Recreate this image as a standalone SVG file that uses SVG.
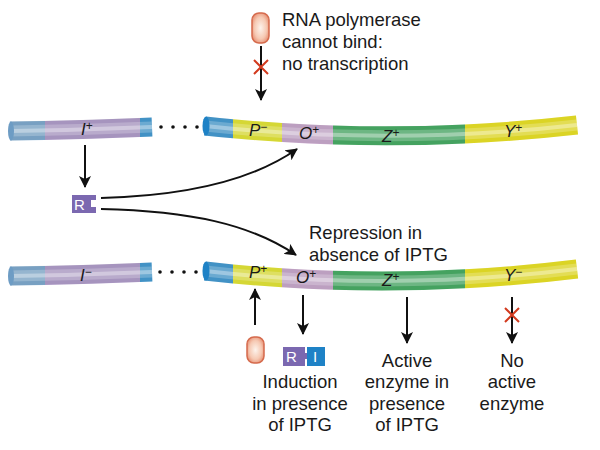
<svg xmlns="http://www.w3.org/2000/svg" width="600" height="450" viewBox="0 0 600 450">
<defs>
<style>
.lbl{font-family:"Liberation Sans",Arial,sans-serif;font-size:18.5px;fill:#1a1a1a}
.con{fill:none;stroke:#111;stroke-width:2}
.tube{fill:none;stroke-width:19;stroke-linecap:butt}
.shade{fill:none;stroke:#000;stroke-opacity:0.10;stroke-width:19}
.hl1{fill:none;stroke:#fff;stroke-opacity:0.22;stroke-width:11}
.hl2{fill:none;stroke:#fff;stroke-opacity:0.35;stroke-width:4}
.x{stroke:#d23a1e;stroke-width:2;fill:none}
.pol{fill:url(#polg);stroke:#d56a4c;stroke-width:1.5}
</style>
<marker id="ah" viewBox="0 0 12 12" refX="11" refY="6" markerWidth="12" markerHeight="12" orient="auto" markerUnits="userSpaceOnUse">
<path d="M0,0 L12,6 L0,12 L3,6 z" fill="#111"/>
</marker>
<radialGradient id="polg" cx="0.5" cy="0.5" r="0.6">
<stop offset="0" stop-color="#fdf3ec"/>
<stop offset="0.6" stop-color="#f6c9b3"/>
<stop offset="1" stop-color="#e4876a"/>
</radialGradient>
<path id="opTop" d="M205,126 Q390,146 577,125"/>
<path id="opBot" d="M205,271 Q390,292 577,269"/>
<path id="iTop" d="M10,131 Q80,130 152,127"/>
<path id="iBot" d="M10,276 Q80,275 152,272"/>
<clipPath id="cBlue"><rect x="200" y="0" width="33" height="450"/></clipPath>
<clipPath id="cP"><rect x="233" y="0" width="49" height="450"/></clipPath>
<clipPath id="cO"><rect x="282" y="0" width="51" height="450"/></clipPath>
<clipPath id="cZ"><rect x="333" y="0" width="132" height="450"/></clipPath>
<clipPath id="cY"><rect x="465" y="0" width="115" height="450"/></clipPath>
<clipPath id="cI1"><rect x="5" y="0" width="40" height="450"/></clipPath>
<clipPath id="cI2"><rect x="45" y="0" width="95" height="450"/></clipPath>
<clipPath id="cI3"><rect x="140" y="0" width="15" height="450"/></clipPath>
</defs>
<rect width="600" height="450" fill="#fff"/>

<g id="gene-I-top">
<use href="#iTop" class="tube" stroke="#86b3d8" clip-path="url(#cI1)"/>
<use href="#iTop" class="tube" stroke="#b9a5d4" clip-path="url(#cI2)"/>
<use href="#iTop" class="tube" stroke="#4aa3dc" clip-path="url(#cI3)"/>
<use href="#iTop" class="shade"/><use href="#iTop" class="hl1"/><use href="#iTop" class="hl2"/>
<ellipse cx="11" cy="131" rx="3" ry="9.5" fill="#6d9cc4"/>
<text x="81" y="135" font-family="Liberation Sans,Arial,sans-serif" font-size="17" font-style="italic" fill="#1a1a1a">I<tspan font-size="12" font-style="normal" dy="-5">+</tspan></text>
</g>
<g id="dots-top" fill="#111">
<circle cx="161" cy="127" r="1.8"/><circle cx="173" cy="127" r="1.8"/><circle cx="185" cy="127" r="1.8"/><circle cx="197" cy="127" r="1.8"/>
</g>
<g id="operon-top" font-family="Liberation Sans,Arial,sans-serif" font-size="17" font-style="italic" fill="#1a1a1a">
<use href="#opTop" class="tube" stroke="#4aa3dc" clip-path="url(#cBlue)"/>
<use href="#opTop" class="tube" stroke="#eef03c" clip-path="url(#cP)"/>
<use href="#opTop" class="tube" stroke="#d2b1d6" clip-path="url(#cO)"/>
<use href="#opTop" class="tube" stroke="#4db56b" clip-path="url(#cZ)"/>
<use href="#opTop" class="tube" stroke="#f4ec2a" clip-path="url(#cY)"/>
<use href="#opTop" class="shade"/><use href="#opTop" class="hl1"/><use href="#opTop" class="hl2"/>
<ellipse cx="206" cy="126" rx="3.5" ry="9.5" fill="#1e82c6"/>
<text x="249" y="136">P<tspan font-size="12" font-style="normal" dy="-5">−</tspan></text>
<text x="299" y="139">O<tspan font-size="12" font-style="normal" dy="-5">+</tspan></text>
<text x="382" y="142">Z<tspan font-size="12" font-style="normal" dy="-5">+</tspan></text>
<text x="504" y="137">Y<tspan font-size="12" font-style="normal" dy="-5">+</tspan></text>
</g>

<g id="rnapol-top">
<rect class="pol" x="252" y="13" width="17" height="30" rx="7"/>
<text class="lbl" x="282" y="26">RNA polymerase</text>
<text class="lbl" x="282" y="48">cannot bind:</text>
<text class="lbl" x="282" y="70">no transcription</text>
</g>

<g id="repressor">
<path d="M72,195 H96 V200 H91 V207 H96 V213 H72 Z" fill="#7b68b0"/>
<text x="74" y="210" font-family="Liberation Sans,Arial,sans-serif" font-size="15" fill="#fff">R</text>
</g>

<g id="gene-I-bottom">
<use href="#iBot" class="tube" stroke="#86b3d8" clip-path="url(#cI1)"/>
<use href="#iBot" class="tube" stroke="#b9a5d4" clip-path="url(#cI2)"/>
<use href="#iBot" class="tube" stroke="#4aa3dc" clip-path="url(#cI3)"/>
<use href="#iBot" class="shade"/><use href="#iBot" class="hl1"/><use href="#iBot" class="hl2"/>
<ellipse cx="11" cy="276" rx="3" ry="9.5" fill="#6d9cc4"/>
<text x="80" y="281" font-family="Liberation Sans,Arial,sans-serif" font-size="17" font-style="italic" fill="#1a1a1a">I<tspan font-size="12" font-style="normal" dy="-5">−</tspan></text>
</g>
<g id="dots-bottom" fill="#111">
<circle cx="160" cy="272" r="1.8"/><circle cx="172" cy="272" r="1.8"/><circle cx="184" cy="272" r="1.8"/><circle cx="196" cy="272" r="1.8"/>
</g>
<g id="operon-bottom" font-family="Liberation Sans,Arial,sans-serif" font-size="17" font-style="italic" fill="#1a1a1a">
<use href="#opBot" class="tube" stroke="#4aa3dc" clip-path="url(#cBlue)"/>
<use href="#opBot" class="tube" stroke="#eef03c" clip-path="url(#cP)"/>
<use href="#opBot" class="tube" stroke="#d2b1d6" clip-path="url(#cO)"/>
<use href="#opBot" class="tube" stroke="#4db56b" clip-path="url(#cZ)"/>
<use href="#opBot" class="tube" stroke="#f4ec2a" clip-path="url(#cY)"/>
<use href="#opBot" class="shade"/><use href="#opBot" class="hl1"/><use href="#opBot" class="hl2"/>
<ellipse cx="206" cy="271" rx="3.5" ry="9.5" fill="#1e82c6"/>
<text x="249" y="278">P<tspan font-size="12" font-style="normal" dy="-5">+</tspan></text>
<text x="296" y="283">O<tspan font-size="12" font-style="normal" dy="-5">+</tspan></text>
<text x="382" y="286">Z<tspan font-size="12" font-style="normal" dy="-5">+</tspan></text>
<text x="504" y="281">Y<tspan font-size="12" font-style="normal" dy="-5">−</tspan></text>
</g>

<g id="repression-label">
<text class="lbl" x="309" y="239">Repression in</text>
<text class="lbl" x="309" y="261">absence of IPTG</text>
</g>

<g id="rnapol-bottom">
<rect class="pol" x="247" y="337" width="17" height="26" rx="7"/>
</g>
<g id="ri-complex">
<rect x="283" y="347" width="22" height="19" fill="#7b68b0"/>
<rect x="303" y="353" width="4" height="6" fill="#7b68b0"/>
<rect x="307" y="347" width="18" height="19" fill="#1e82c6"/>
<text x="286" y="362" font-family="Liberation Sans,Arial,sans-serif" font-size="15" fill="#fff">R</text>
<text x="313" y="362" font-family="Liberation Sans,Arial,sans-serif" font-size="15" fill="#fff">I</text>
</g>

<g id="induction-label" text-anchor="middle">
<text class="lbl" x="300" y="388">Induction</text>
<text class="lbl" x="300" y="410">in presence</text>
<text class="lbl" x="300" y="431">of IPTG</text>
</g>
<g id="active-label" text-anchor="middle">
<text class="lbl" x="407" y="367">Active</text>
<text class="lbl" x="407" y="388">enzyme in</text>
<text class="lbl" x="407" y="410">presence</text>
<text class="lbl" x="407" y="431">of IPTG</text>
</g>
<g id="noactive-label" text-anchor="middle">
<text class="lbl" x="512" y="367">No</text>
<text class="lbl" x="512" y="388">active</text>
<text class="lbl" x="512" y="410">enzyme</text>
</g>

<g id="connectors">
<line class="con" x1="261" y1="46" x2="261" y2="100" marker-end="url(#ah)"/>
<path class="x" d="M254,60 L268,74 M268,60 L254,74"/>
<line class="con" x1="85" y1="145" x2="85" y2="187" marker-end="url(#ah)"/>
<path class="con" d="M101,198 C180,196 250,182 297,149" marker-end="url(#ah)"/>
<path class="con" d="M101,209 C190,211 250,224 296,255" marker-end="url(#ah)"/>
<line class="con" x1="255" y1="325" x2="255" y2="289" marker-end="url(#ah)"/>
<line class="con" x1="303" y1="295" x2="303" y2="334" marker-end="url(#ah)"/>
<line class="con" x1="407" y1="297" x2="407" y2="343" marker-end="url(#ah)"/>
<line class="con" x1="512" y1="297" x2="512" y2="343" marker-end="url(#ah)"/>
<path class="x" d="M505,308 L519,322 M519,308 L505,322"/>
</g>
</svg>
